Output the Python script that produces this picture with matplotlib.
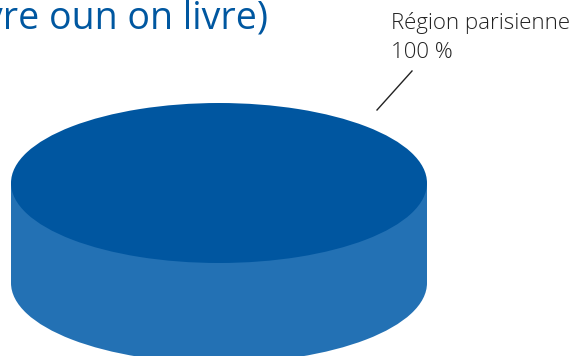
import matplotlib
matplotlib.use("Agg")
import matplotlib.pyplot as plt

# data
labels = ["Région parisienne"]
values = [100]
title = "(livre oun on livre)"

top_color = "#0056a0"
side_color = "#2371b4"

W, H = 580, 356
fig = plt.figure(figsize=(W / 100, H / 100), dpi=100)
ax = fig.add_axes([0, 0, 1, 1])

# pixel layout of the disc
cx, cy, rx, ry = 219, 183, 208, 80
depth = 100 / ry

# side: bottom disc + band, then the top disc
ax.pie(values, center=(0, -depth), colors=[side_color], startangle=90,
       wedgeprops=dict(linewidth=0))
ax.bar(0, depth, width=2, bottom=-depth, color=side_color, linewidth=0)
ax.pie(values, center=(0, 0), colors=[top_color], startangle=90,
       wedgeprops=dict(linewidth=0))

ax.set_aspect("auto")
ax.set_xlim(-cx / rx, (W - cx) / rx)
ax.set_ylim((cy - H) / ry, cy / ry)
ax.axis("off")

# leader line and label
ax.plot([(377 - cx) / rx, (412 - cx) / rx], [(cy - 110) / ry, (cy - 71) / ry],
        color="#222222", lw=1)
fig.text(391 / W, 1 - 29 / H, labels[0], ha="left", va="baseline",
         fontsize=16, color="#222222", family="Open Sans", weight="light")
fig.text(391 / W, 1 - 58 / H, "%d %%" % values[0], ha="left", va="baseline",
         fontsize=16, color="#222222", family="Open Sans", weight="light")

fig.text(268 / W, 1 - 28 / H, title, ha="right", va="baseline",
         fontsize=27, color="#0057a0", family="Open Sans")

fig.savefig("out.png", dpi=100)
